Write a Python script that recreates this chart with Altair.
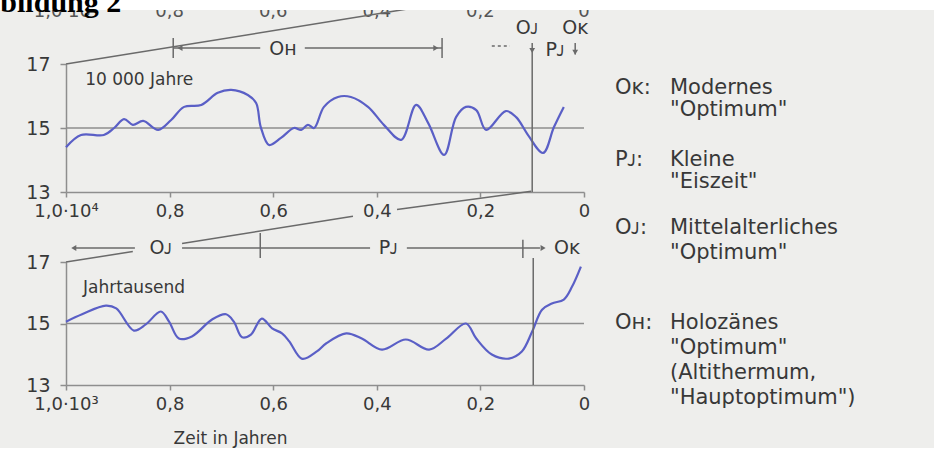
import altair as alt
import pandas as pd

# ---------------- values ----------------
# 10 000 Jahre panel (x: fraction of 10^4 years before present, t: temperature °C)
top_x = [1.0, 0.971, 0.927, 0.907, 0.888, 0.871, 0.851, 0.822, 0.797, 0.772,
         0.739, 0.707, 0.681, 0.649, 0.633, 0.624, 0.608, 0.585, 0.560, 0.546,
         0.533, 0.521, 0.502, 0.475, 0.450, 0.417, 0.386, 0.353, 0.324, 0.301,
         0.270, 0.247, 0.228, 0.208, 0.189, 0.151, 0.131, 0.108, 0.079, 0.058,
         0.039]
top_t = [14.4, 14.78, 14.78, 15.0, 15.28, 15.1, 15.22, 14.94, 15.25, 15.66,
         15.72, 16.1, 16.19, 16.03, 15.78, 15.03, 14.47, 14.69, 15.0, 14.94,
         15.1, 15.0, 15.66, 15.97, 15.97, 15.66, 15.09, 14.63, 15.72, 15.16,
         14.16, 15.34, 15.66, 15.56, 14.94, 15.53, 15.34, 14.78, 14.22, 15.03,
         15.66]
# Jahrtausend panel (x: fraction of 10^3 years before present)
bot_x = [1.0, 0.969, 0.923, 0.903, 0.869, 0.846, 0.817, 0.801, 0.782, 0.757,
         0.718, 0.691, 0.676, 0.660, 0.643, 0.622, 0.602, 0.583, 0.569, 0.544,
         0.515, 0.498, 0.459, 0.429, 0.390, 0.344, 0.299, 0.266, 0.228, 0.208,
         0.178, 0.145, 0.120, 0.100, 0.081, 0.062, 0.039, 0.023, 0.006]
bot_t = [15.06, 15.3, 15.58, 15.49, 14.77, 14.97, 15.39, 15.06, 14.51, 14.58,
         15.13, 15.3, 15.06, 14.55, 14.64, 15.16, 14.84, 14.68, 14.42, 13.85,
         14.1, 14.35, 14.68, 14.51, 14.15, 14.48, 14.15, 14.51, 15.0, 14.51,
         13.99, 13.86, 14.09, 14.74, 15.45, 15.65, 15.78, 16.2, 16.85]

x_ticks = [1.0, 0.8, 0.6, 0.4, 0.2, 0.0]
y_ticks = [13, 15, 17]
top_tick_labels = ["1,0·10⁴", "0,8", "0,6", "0,4", "0,2", "0"]
bot_tick_labels = ["1,0·10³", "0,8", "0,6", "0,4", "0,2", "0"]
prev_tick_labels = ["1,0·10⁵", "0,8", "0,6", "0,4", "0,2", "0"]

panel_names = ["10 000 Jahre", "Jahrtausend"]
x_title = "Zeit in Jahren"
header = "Abbildung 2"

legend_keys = ["Oᴋ:", "Pᴊ:", "Oᴊ:", "Oʜ:"]
legend_lines = [["Modernes", "\"Optimum\""],
                ["Kleine", "\"Eiszeit\""],
                ["Mittelalterliches", "\"Optimum\""],
                ["Holozänes", "\"Optimum\"", "(Altithermum,", "\"Hauptoptimum\")"]]

# period marks (in x units of each panel)
top_periods = {"Oʜ": (0.793, 0.274), "Oʜ_label": 0.581, "split": 0.1}
bot_periods = {"Oᴊ": 0.625, "Pᴊ": 0.118, "split": 0.098}

# ---------------- layout (positions / styles) ----------------
CURVE = "#5a5fc6"
INK = "#383838"
AX = "#8e8e8e"
LINE = "#6a6a6a"
FONT = "DejaVu Sans"

X = alt.Scale(domain=[1, 0], nice=False, zero=False)
Y = alt.Scale(domain=[13, 17], nice=False, zero=False)


def label_expr(labels):
    arr = "[" + ",".join("'%s'" % s for s in labels) + "]"
    return arr + "[round((1 - datum.value) * 5)]"


Y_AXIS = alt.Axis(values=y_ticks, tickSize=6, labelPadding=10, labelFontSize=19)
TOP_X_AXIS = alt.Axis(values=x_ticks, labelExpr=label_expr(top_tick_labels),
                      labelFlush=False, labelOverlap=False, tickSize=5, labelPadding=5)
BOT_X_AXIS = alt.Axis(values=x_ticks, labelExpr=label_expr(bot_tick_labels),
                      labelFlush=False, labelOverlap=False, tickSize=5, labelPadding=5,
                      titleX=164, titleY=53, titleAlign="center", titleBaseline="middle",
                      titleFont=FONT, titleFontSize=17, titleFontWeight="normal",
                      titleColor=INK)


class Panel:
    def __init__(self, xaxis, title):
        self.xaxis = xaxis
        self.title = title

    def xq(self, f):
        return alt.X(f"{f}:Q", scale=X, axis=self.xaxis, title=self.title)

    def yq(self, f):
        return alt.Y(f"{f}:Q", scale=Y, axis=Y_AXIS, title=None)

    def rules(self, rows, color=LINE, **kw):
        df = pd.DataFrame(rows, columns=["x1", "y1", "x2", "y2"])
        return alt.Chart(df).mark_rule(color=color, strokeWidth=1.5, **kw).encode(
            x=self.xq("x1"), x2="x2:Q", y=self.yq("y1"), y2="y2:Q")

    def texts(self, rows, size=19, align="center", color=INK, **kw):
        df = pd.DataFrame(rows, columns=["x", "y", "s"])
        return alt.Chart(df).mark_text(font=FONT, fontSize=size, align=align,
                                       baseline="middle", color=color, **kw).encode(
            x=self.xq("x"), y=self.yq("y"), text="s:N")

    def heads(self, rows, shape):
        df = pd.DataFrame(rows, columns=["x", "y"])
        return alt.Chart(df).mark_point(shape=shape, filled=True, size=34, color=LINE,
                                        opacity=1).encode(x=self.xq("x"), y=self.yq("y"))

    def curve(self, xs, ts):
        df = pd.DataFrame({"x": xs, "t": ts})
        return alt.Chart(df).mark_line(color=CURVE, strokeWidth=2.2,
                                       interpolate="catmull-rom").encode(
            x=self.xq("x"), y=self.yq("t"))


def band(y0, y1):
    return alt.Chart(pd.DataFrame({"a": [0]})).mark_rect(color="white").encode(
        x=alt.value(-66), x2=alt.value(868), y=alt.value(y0), y2=alt.value(y1))


# ---- top panel ----
P = Panel(TOP_X_AXIS, None)
oh_l, oh_r = top_periods["Oʜ"]
top_layers = [
    P.rules([[1.0, 15, 0.0, 15]], color=AX),
    P.curve(top_x, top_t),
    P.texts([[0.963, 16.5, panel_names[0]]], size=17, align="left"),
    # split line and period marks
    P.rules([[top_periods["split"], 17.66, top_periods["split"], 13.0],
             [0.017, 17.66, 0.017, 17.3],
             [oh_l, 17.81, oh_l, 17.19], [oh_r, 17.81, oh_r, 17.19],
             [oh_l, 17.5, 0.625, 17.5], [0.539, 17.5, oh_r, 17.5]]),
    P.rules([[0.178, 17.56, 0.143, 17.56]], strokeDash=[3, 3]),
    P.heads([[oh_l - 0.013, 17.5]], "triangle-left"),
    P.heads([[oh_r + 0.012, 17.5]], "triangle-right"),
    P.heads([[top_periods["split"], 17.42], [0.017, 17.37]], "triangle-down"),
    P.texts([[top_periods["Oʜ_label"], 17.47, "Oʜ"], [0.110, 18.12, "Oᴊ"],
             [0.017, 18.12, "Oᴋ"], [0.056, 17.44, "Pᴊ"]]),
    # legend
    P.texts([[-0.06, y, k] for k, y in zip(legend_keys, [16.25, 14.0, 11.875, 8.906])],
            size=21, align="left"),
    P.texts([[-0.166, y, s] for lines, ys in zip(legend_lines,
                                                  [[16.25, 15.56], [14.0, 13.31],
                                                   [11.875, 11.09],
                                                   [8.906, 8.125, 7.344, 6.5625]])
             for s, y in zip(lines, ys)], size=21, align="left"),
    # previous (100 000 years) panel axis labels, cut by the page edge
    P.texts([[x, 18.63, s] for x, s in zip(x_ticks, prev_tick_labels)], size=18,
            color="#555555"),
    P.rules([[1.0, 17.0, 0.317, 18.78]]),
    band(-64, -54),
    alt.Chart(pd.DataFrame({"s": [header]})).mark_text(
        font="Liberation Serif", fontSize=30, fontWeight="bold", color="black",
        align="left", baseline="alphabetic").encode(
        x=alt.value(-104), y=alt.value(-52), text="s:N"),
]
top = alt.layer(*top_layers).properties(width=518, height=128)

# ---- bottom panel ----
B = Panel(BOT_X_AXIS, x_title)
bot_layers = [
    B.rules([[1.0, 15, 0.0, 15]], color=AX),
    B.curve(bot_x, bot_t),
    B.texts([[0.967, 16.15, panel_names[1]]], size=17, align="left"),
    B.rules([[bot_periods["split"], 17.13, bot_periods["split"], 13.0],
             [0.867, 17.455, 0.985, 17.455],
             [0.776, 17.455, 0.413, 17.455],
             [0.342, 17.455, 0.085, 17.455],
             [bot_periods["Oᴊ"], 17.94, bot_periods["Oᴊ"], 17.13],
             [bot_periods["Pᴊ"], 17.72, bot_periods["Pᴊ"], 17.13]]),
    B.heads([[0.985, 17.455]], "triangle-left"),
    B.heads([[0.079, 17.455]], "triangle-right"),
    B.texts([[0.817, 17.45, "Oᴊ"], [0.378, 17.45, "Pᴊ"], [0.033, 17.45, "Oᴋ"]]),
    # zoom connector from the 10 000 years panel (interrupted by labels)
    B.rules([[0.102, 19.3, 0.361, 18.71],
             [0.446, 18.49, 0.776, 17.60],
             [0.871, 17.34, 1.0, 17.0]]),
    band(186, 202),
]
bottom = alt.layer(*bot_layers).properties(width=518, height=123)

chart = alt.vconcat(top, bottom, spacing=70, bounds="flush").properties(
    background="#eeeeec",
    padding={"left": 66, "top": 64, "right": 350, "bottom": 400},
    autosize=alt.AutoSizeParams(type="none"),
).configure_view(stroke=None).configure_axis(
    domainColor=AX, domainWidth=1.5, tickColor=AX, tickWidth=1.5, grid=False,
    labelFont=FONT, labelFontSize=18, labelColor=INK,
)

chart.save("out.html", embed_options={"renderer": "svg", "actions": False})
